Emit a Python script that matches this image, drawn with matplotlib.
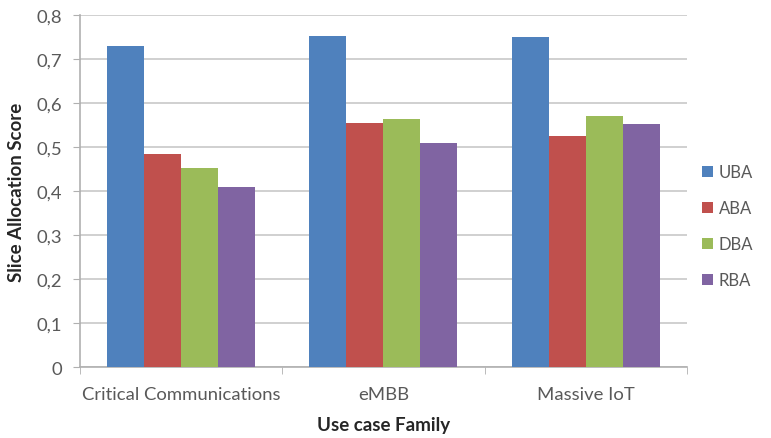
import numpy as np
import matplotlib
matplotlib.use("Agg")
import matplotlib.pyplot as plt
from matplotlib.ticker import FuncFormatter, FixedLocator

# data
families = ["Critical Communications", "eMBB", "Massive IoT"]
series = ["UBA", "ABA", "DBA", "RBA"]
uba = [0.729, 0.752, 0.750]
aba = [0.484, 0.554, 0.524]
dba = [0.453, 0.564, 0.571]
rba = [0.409, 0.510, 0.552]
colors = ["#4F81BD", "#C0504D", "#9BBB59", "#8064A2"]

plt.rcParams['font.family'] = ['Lato', 'DejaVu Sans']

fig = plt.figure(figsize=(7.71, 4.39), dpi=100)
ax = fig.add_axes([0.1038, 0.1617, 0.787, 0.802])

x = np.arange(len(families))
w = 0.183
for i, (vals, name) in enumerate(zip([uba, aba, dba, rba], series)):
    ax.bar(x + (i - 1.5) * w, vals, w, color=colors[i], label=name, zorder=3)

ax.set_xlim(-0.5, 2.5)
ax.set_ylim(0, 0.8)
ax.set_yticks(np.arange(0, 0.81, 0.1))
ax.yaxis.set_major_formatter(FuncFormatter(
    lambda v, p: "0" if abs(v) < 1e-9 else ("%.1f" % v).replace(".", ",")))
ax.grid(axis="y", color="#c8c8c8", linewidth=1.2, zorder=0)

ax.set_xticks(x)
ax.set_xticklabels(families)
ax.xaxis.set_minor_locator(FixedLocator([-0.5, 0.5, 1.5, 2.5]))
ax.tick_params(axis="x", which="major", length=0, pad=14,
               labelsize=13.3, labelcolor="#595959")
ax.tick_params(axis="x", which="minor", length=5, color="#b0b0b0")
ax.tick_params(axis="y", length=5, color="#b0b0b0",
               labelsize=13.3, labelcolor="#595959", pad=8)

for s in ["top", "right"]:
    ax.spines[s].set_visible(False)
for s in ["left", "bottom"]:
    ax.spines[s].set_color("#b0b0b0")
    ax.spines[s].set_linewidth(1.2)

ax.set_ylabel("Slice Allocation Score", fontsize=13.5, fontweight="bold",
              color="#262626", labelpad=8)
ax.set_xlabel("Use case Family", fontsize=13.5, fontweight="bold",
              color="#262626", labelpad=10)

ax.legend(loc="center left", bbox_to_anchor=(1.0, 0.40), frameon=False,
          fontsize=12, labelcolor="#595959", handlelength=0.7,
          handleheight=0.7, handletextpad=0.3, labelspacing=1.2)

fig.savefig("out.png", dpi=100)
